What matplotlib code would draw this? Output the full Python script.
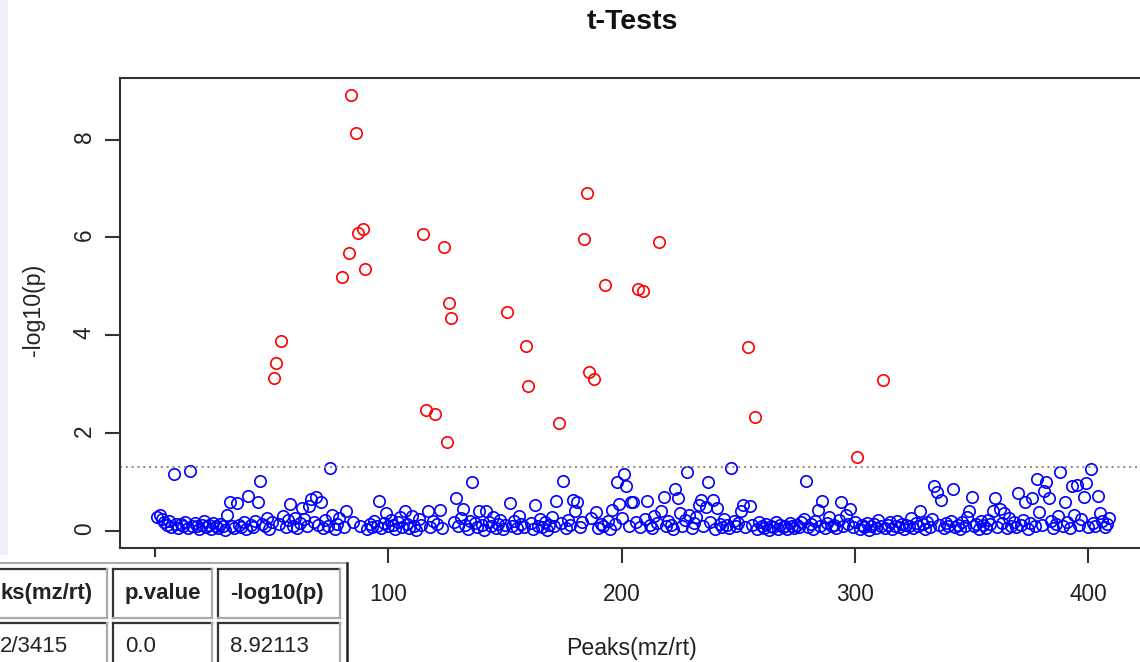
import matplotlib
matplotlib.use("Agg")
import matplotlib.pyplot as plt
from matplotlib.patches import Rectangle
import numpy as np

plt.rcParams['font.family'] = ['Liberation Sans', 'DejaVu Sans']

# -log10(p) per peak (peak index = position in list)
neglogp = [
    0.29, 0.32, 0.25, 0.18, 0.12, 0.21, 0.08, 1.17, 0.15, 0.06,
    0.14, 0.10, 0.19, 0.05, 1.23, 0.09, 0.16, 0.11, 0.04, 0.13,
    0.20, 0.07, 0.12, 0.03, 0.17, 0.10, 0.06, 0.14, 0.09, 0.02,
    0.33, 0.59, 0.11, 0.05, 0.57, 0.13, 0.08, 0.18, 0.04, 0.72,
    0.12, 0.07, 0.21, 0.59, 1.03, 0.15, 0.09, 0.26, 0.03, 0.19,
    3.13, 3.44, 0.14, 3.89, 0.30, 0.08, 0.22, 0.55, 0.11, 0.27,
    0.05, 0.17, 0.47, 0.24, 0.09, 0.50, 0.65, 0.19, 0.70, 0.13,
    0.60, 0.06, 0.22, 0.10, 1.29, 0.33, 0.04, 0.15, 0.26, 5.19,
    0.08, 0.40, 5.69, 8.92, 0.18, 8.14, 6.09, 0.11, 6.18, 5.36,
    0.03, 0.14, 0.07, 0.21, 0.10, 0.62, 0.05, 0.16, 0.37, 0.09,
    0.23, 0.12, 0.04, 0.19, 0.28, 0.08, 0.40, 0.15, 0.06, 0.31,
    0.11, 0.02, 0.24, 0.13, 6.07, 2.47, 0.40, 0.07, 0.20, 2.39,
    0.14, 0.42, 0.05, 5.81, 1.82, 4.66, 4.36, 0.18, 0.67, 0.09,
    0.26, 0.45, 0.12, 0.04, 0.21, 0.99, 0.16, 0.07, 0.40, 0.13,
    0.02, 0.41, 0.19, 0.10, 0.28, 0.06, 0.15, 0.23, 0.03, 0.12,
    4.48, 0.58, 0.09, 0.20, 0.05, 0.31, 0.14, 0.08, 3.78, 2.97,
    0.17, 0.04, 0.53, 0.11, 0.25, 0.07, 0.19, 0.02, 0.13, 0.29,
    0.09, 0.61, 2.21, 0.16, 1.02, 0.05, 0.22, 0.12, 0.63, 0.40,
    0.59, 0.08, 0.18, 5.97, 6.91, 3.25, 0.27, 3.11, 0.38, 0.06,
    0.15, 0.10, 5.03, 0.21, 0.04, 0.43, 0.14, 1.00, 0.55, 0.27,
    1.17, 0.92, 0.09, 0.60, 0.60, 0.18, 4.95, 0.07, 4.91, 0.24,
    0.62, 0.12, 0.05, 0.30, 0.16, 5.91, 0.40, 0.70, 0.09, 0.20,
    0.13, 0.03, 0.85, 0.67, 0.37, 0.11, 0.22, 1.20, 0.33, 0.06,
    0.17, 0.28, 0.53, 0.63, 0.10, 0.49, 1.00, 0.19, 0.63, 0.04,
    0.46, 0.14, 0.08, 0.25, 0.12, 0.05, 1.28, 0.21, 0.09, 0.16,
    0.40, 0.53, 0.07, 3.76, 0.51, 0.13, 2.33, 0.03, 0.18, 0.10,
    0.06, 0.15, 0.02, 0.11, 0.08, 0.19, 0.04, 0.13, 0.07, 0.10,
    0.03, 0.16, 0.09, 0.05, 0.12, 0.07, 0.18, 0.25, 1.02, 0.08,
    0.14, 0.04, 0.20, 0.43, 0.11, 0.61, 0.06, 0.17, 0.28, 0.09,
    0.13, 0.05, 0.22, 0.60, 0.10, 0.32, 0.15, 0.44, 0.07, 0.19,
    1.51, 0.04, 0.12, 0.08, 0.16, 0.02, 0.10, 0.14, 0.06, 0.22,
    0.09, 3.09, 0.05, 0.13, 0.18, 0.03, 0.11, 0.20, 0.07, 0.15,
    0.04, 0.12, 0.09, 0.26, 0.06, 0.17, 0.10, 0.40, 0.14, 0.03,
    0.19, 0.08, 0.24, 0.91, 0.80, 0.12, 0.63, 0.05, 0.16, 0.10,
    0.21, 0.86, 0.07, 0.13, 0.04, 0.18, 0.11, 0.29, 0.40, 0.70,
    0.09, 0.15, 0.03, 0.20, 0.12, 0.06, 0.23, 0.14, 0.41, 0.68,
    0.08, 0.45, 0.17, 0.37, 0.05, 0.26, 0.11, 0.19, 0.07, 0.77,
    0.13, 0.22, 0.60, 0.04, 0.16, 0.67, 0.09, 1.06, 0.38, 0.12,
    0.82, 1.00, 0.68, 0.21, 0.06, 0.15, 0.30, 1.21, 0.10, 0.59,
    0.18, 0.05, 0.92, 0.33, 0.93, 0.13, 0.24, 0.69, 0.98, 0.08,
    1.27, 0.16, 0.11, 0.72, 0.37, 0.20, 0.07, 0.14, 0.26,
]
x_ticks = [0, 100, 200, 300, 400]
# the "0" label sits under the table in the screenshot
x_tick_labels = ["", "100", "200", "300", "400"]
y_ticks = [0, 2, 4, 6, 8]
p_cutoff = 0.05

# the html table that sits over the bottom-left corner
table_header = ["ks(mz/rt)", "p.value", "-log10(p)"]
table_row = ["2/3415", "0.0", "8.92113"]

W, H = 1140, 662
fig = plt.figure(figsize=(W / 100, H / 100), dpi=100)
fig.patch.set_facecolor("white")

# main plot, right edge runs past the picture like in the screenshot
ax = fig.add_axes([120 / W, 1 - 548 / H, 1030 / W, 470 / H])
y = np.array(neglogp)
x = np.arange(1, len(y) + 1)
cut = -np.log10(p_cutoff)
sig = y > cut
ax.plot(x[~sig], y[~sig], 'o', mfc='none', mec='#0000ff', ms=8.2, mew=1.2)
ax.plot(x[sig], y[sig], 'o', mfc='none', mec='#ff0000', ms=8.2, mew=1.2)
ax.axhline(cut, color='#888888', ls=(0, (1, 2)), lw=1.4)

ax.set_xlim(-15, 426.5)
ax.set_ylim(-0.35, 9.26)
ax.set_xticks(x_ticks)
ax.set_xticklabels(x_tick_labels)
ax.set_yticks(y_ticks)
ax.tick_params(axis='both', length=10.5, width=1.5, color='#333333',
               labelsize=16.3, labelcolor='#222222')
ax.tick_params(axis='y', labelrotation=90, pad=7)
ax.tick_params(axis='x', pad=15)
for s in ax.spines.values():
    s.set_color('#333333')
    s.set_linewidth(1.5)

fig.text(632 / W, 1 - 22 / H, "t-Tests", ha='center', va='center',
         fontsize=20.5, fontweight='bold', color='#111111')
fig.text(632 / W, 1 - 648 / H, "Peaks(mz/rt)", ha='center', va='center',
         fontsize=16.7, color='#222222')
fig.text(33 / W, 1 - 310 / H, "-log10(p)", ha='center', va='center',
         rotation=90, fontsize=16.7, color='#222222')

# overlay in pixel coordinates for the page bits
ov = fig.add_axes([0, 0, 1, 1], zorder=10)
ov.set_xlim(0, W)
ov.set_ylim(H, 0)
ov.axis('off')
ov.patch.set_alpha(0)

ov.add_patch(Rectangle((0, 0), 8, 555, color='#eef0f7', lw=0))
ov.add_patch(Rectangle((0, 557), 352, 110, color='white', lw=0))
ov.plot([0, 347], [563, 563], color='#aaaaaa', lw=1.5)
ov.plot([347, 347], [563, 670], color='#222222', lw=1.8)

cols = [(-10, 107), (113, 212), (218, 340)]
rows = [(569, 618), (623, 680)]
text_x = [0, 125, 230]
for (y0, y1) in rows:
    for (x0, x1) in cols:
        ov.plot([x0, x1], [y0, y0], color='#333333', lw=1.6)
        ov.plot([x0, x0], [y0, y1], color='#333333', lw=1.6)
        ov.plot([x1, x1], [y0, y1], color='#aaaaaa', lw=1.6)
        ov.plot([x0, x1], [y1, y1], color='#aaaaaa', lw=1.6)

for tx, lab in zip(text_x, table_header):
    ov.text(tx, 594, lab, ha='left', va='center', fontsize=16,
            fontweight='bold', color='#222222')
for tx, lab in zip(text_x, table_row):
    ov.text(tx, 646, lab, ha='left', va='center', fontsize=16,
            color='#222222')

fig.savefig("out.png", dpi=100)
